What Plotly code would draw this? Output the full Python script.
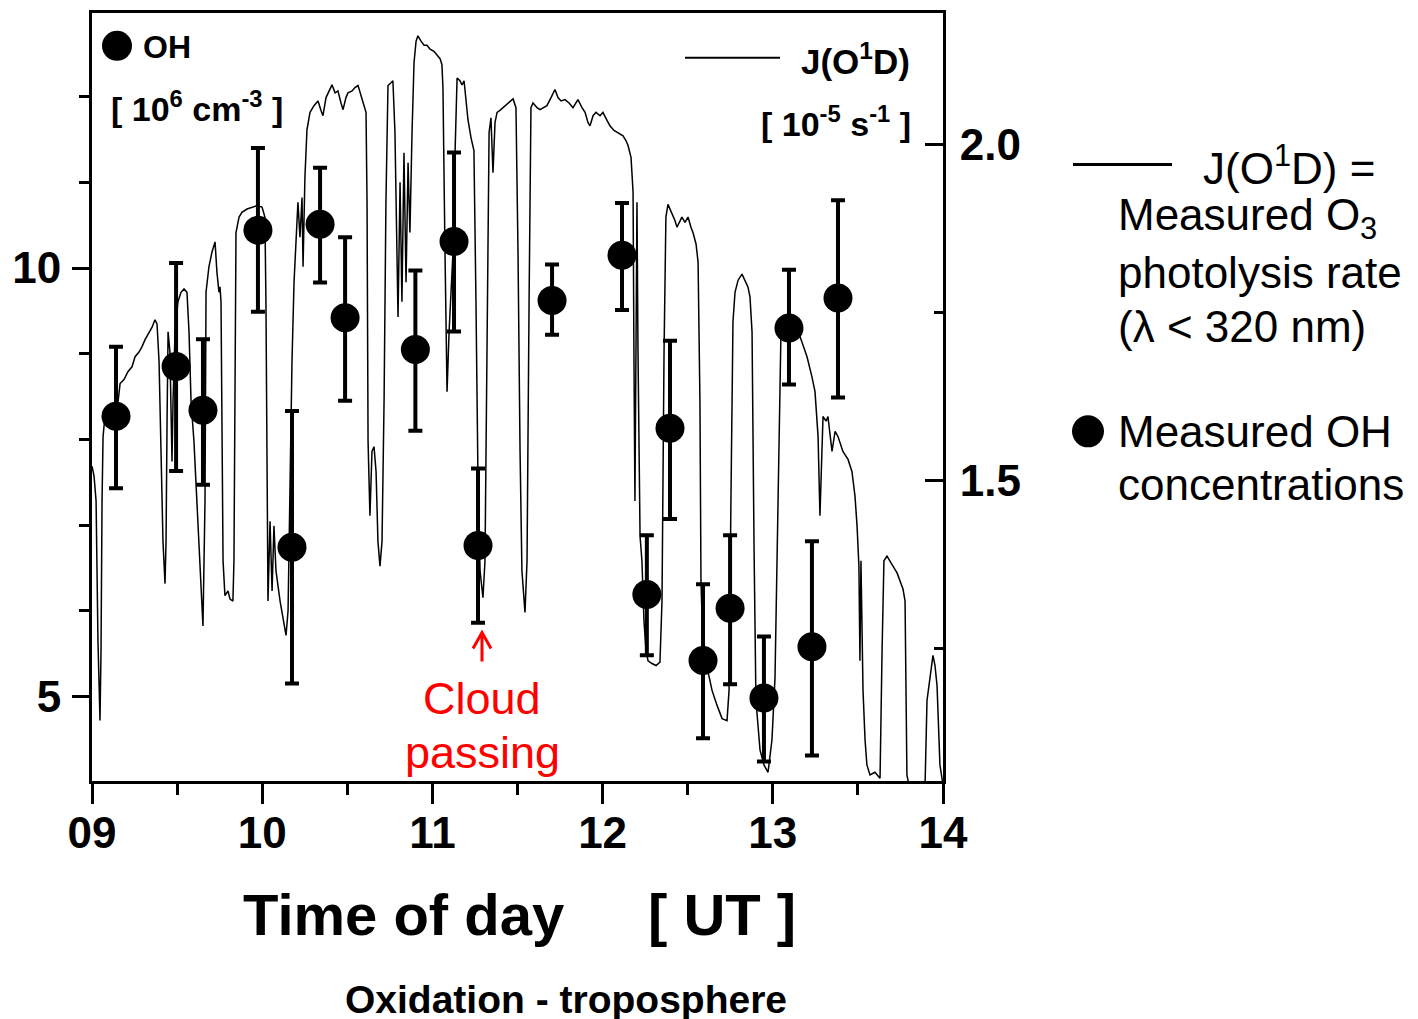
import plotly.graph_objects as go

# ---------------- data ----------------
OH_TIME = [9.141, 9.494, 9.652, 9.975, 10.175, 10.340, 10.487, 10.900, 11.127, 11.268,
           11.703, 12.114, 12.260, 12.396, 12.590, 12.749, 12.948, 13.095, 13.230, 13.383]
OH_VAL = [8.27, 8.85, 8.34, 10.44, 6.74, 10.51, 9.42, 9.05, 10.31, 6.76,
          9.62, 10.15, 6.19, 8.13, 5.42, 6.03, 4.98, 9.30, 5.58, 9.65]
OH_ERR_UP = [0.81, 1.21, 0.83, 0.96, 1.59, 0.66, 0.94, 0.92, 1.04, 0.90,
             0.42, 0.61, 0.69, 1.02, 0.89, 0.85, 0.72, 0.68, 1.23, 1.14]
OH_ERR_DOWN = [0.84, 1.22, 0.87, 0.95, 1.59, 0.68, 0.97, 0.95, 1.05, 0.90,
               0.40, 0.64, 0.71, 1.06, 0.91, 0.89, 0.74, 0.66, 1.27, 1.16]

J_TIME = [9.000, 9.012, 9.024, 9.029, 9.035, 9.047, 9.053, 9.059, 9.065, 9.076,
          9.106, 9.135, 9.153, 9.165, 9.188, 9.212, 9.235, 9.253, 9.276, 9.294,
          9.311, 9.335, 9.353, 9.370, 9.382, 9.394, 9.405, 9.417, 9.429, 9.435,
          9.441, 9.447, 9.458, 9.470, 9.476, 9.488, 9.505, 9.523, 9.541, 9.558,
          9.570, 9.582, 9.599, 9.617, 9.635, 9.652, 9.664, 9.670, 9.687, 9.705,
          9.723, 9.734, 9.746, 9.752, 9.758, 9.764, 9.770, 9.781, 9.799, 9.811,
          9.828, 9.834, 9.840, 9.846, 9.864, 9.881, 9.911, 9.940, 9.969, 9.999,
          10.016, 10.022, 10.028, 10.034, 10.046, 10.058, 10.069, 10.081, 10.105, 10.128,
          10.140, 10.152, 10.163, 10.175, 10.187, 10.199, 10.210, 10.222, 10.234, 10.240,
          10.251, 10.263, 10.281, 10.304, 10.328, 10.345, 10.357, 10.375, 10.392, 10.410,
          10.428, 10.445, 10.463, 10.475, 10.492, 10.504, 10.528, 10.545, 10.563, 10.581,
          10.592, 10.610, 10.616, 10.622, 10.633, 10.645, 10.657, 10.669, 10.680, 10.692,
          10.704, 10.716, 10.727, 10.739, 10.757, 10.768, 10.780, 10.792, 10.798, 10.810,
          10.821, 10.833, 10.845, 10.857, 10.868, 10.880, 10.892, 10.904, 10.915, 10.933,
          10.951, 10.968, 10.986, 11.009, 11.027, 11.045, 11.056, 11.062, 11.074, 11.086,
          11.098, 11.109, 11.121, 11.133, 11.145, 11.162, 11.174, 11.186, 11.197, 11.209,
          11.227, 11.244, 11.256, 11.268, 11.280, 11.297, 11.309, 11.321, 11.333, 11.344,
          11.356, 11.368, 11.380, 11.397, 11.427, 11.456, 11.474, 11.491, 11.503, 11.515,
          11.526, 11.544, 11.556, 11.568, 11.579, 11.591, 11.615, 11.632, 11.656, 11.673,
          11.697, 11.720, 11.738, 11.756, 11.779, 11.803, 11.826, 11.844, 11.855, 11.879,
          11.897, 11.914, 11.926, 11.944, 11.961, 11.985, 12.002, 12.026, 12.043, 12.067,
          12.085, 12.102, 12.120, 12.137, 12.149, 12.167, 12.179, 12.184, 12.190, 12.196,
          12.202, 12.208, 12.220, 12.231, 12.243, 12.255, 12.267, 12.290, 12.314, 12.337,
          12.349, 12.361, 12.372, 12.384, 12.396, 12.408, 12.425, 12.437, 12.455, 12.466,
          12.484, 12.502, 12.519, 12.531, 12.549, 12.561, 12.572, 12.578, 12.590, 12.613,
          12.643, 12.672, 12.702, 12.731, 12.743, 12.754, 12.766, 12.778, 12.796, 12.819,
          12.837, 12.854, 12.866, 12.878, 12.890, 12.901, 12.925, 12.948, 12.972, 12.995,
          13.013, 13.031, 13.048, 13.066, 13.089, 13.119, 13.160, 13.201, 13.230, 13.248,
          13.266, 13.277, 13.295, 13.313, 13.324, 13.348, 13.366, 13.383, 13.412, 13.442,
          13.465, 13.483, 13.495, 13.506, 13.512, 13.518, 13.530, 13.542, 13.553, 13.571,
          13.600, 13.630, 13.642, 13.653, 13.671, 13.689, 13.706, 13.730, 13.747, 13.765,
          13.777, 13.788, 13.806, 13.894, 13.906, 13.924, 13.941, 13.953, 13.965, 13.982,
          14.000]
J_VAL = [1.521, 1.506, 1.469, 1.380, 1.261, 1.142, 1.246, 1.469, 1.565, 1.595,
         1.599, 1.602, 1.617, 1.644, 1.650, 1.662, 1.669, 1.684, 1.691, 1.699,
         1.709, 1.721, 1.728, 1.739, 1.733, 1.677, 1.543, 1.409, 1.346, 1.409,
         1.588, 1.721, 1.691, 1.528, 1.617, 1.721, 1.766, 1.780, 1.785, 1.780,
         1.721, 1.617, 1.558, 1.469, 1.365, 1.283, 1.469, 1.780, 1.818, 1.840,
         1.855, 1.810, 1.780, 1.788, 1.766, 1.617, 1.380, 1.328, 1.335, 1.323,
         1.320, 1.380, 1.617, 1.869, 1.892, 1.899, 1.904, 1.907, 1.909, 1.907,
         1.892, 1.766, 1.543, 1.320, 1.439, 1.335, 1.432, 1.365, 1.320, 1.283,
         1.269, 1.306, 1.499, 1.677, 1.795, 1.862, 1.914, 1.862, 1.921, 1.818,
         1.951, 2.022, 2.048, 2.058, 2.065, 2.051, 2.043, 2.070, 2.080, 2.089,
         2.077, 2.080, 2.062, 2.052, 2.070, 2.077, 2.080, 2.085, 2.088, 2.074,
         2.062, 2.048, 1.914, 1.558, 1.447, 1.543, 1.550, 1.513, 1.409, 1.372,
         1.409, 1.617, 1.914, 2.088, 2.092, 2.095, 2.018, 1.840, 1.743, 1.944,
         1.766, 1.988, 1.795, 1.973, 1.869, 2.015, 2.122, 2.154, 2.162, 2.154,
         2.148, 2.148, 2.142, 2.139, 2.134, 2.128, 2.119, 2.085, 1.840, 1.632,
         1.721, 1.780, 1.840, 1.988, 2.099, 2.095, 2.089, 2.095, 2.070, 2.037,
         2.010, 1.991, 1.766, 1.499, 1.365, 1.325, 1.380, 1.691, 2.018, 2.040,
         1.958, 2.033, 2.048, 2.051, 2.058, 2.065, 2.068, 2.055, 1.840, 1.543,
         1.365, 1.303, 1.380, 1.766, 2.055, 2.062, 2.055, 2.052, 2.055, 2.058,
         2.070, 2.082, 2.070, 2.065, 2.067, 2.062, 2.055, 2.062, 2.067, 2.055,
         2.048, 2.033, 2.028, 2.043, 2.048, 2.043, 2.048, 2.036, 2.028, 2.021,
         2.018, 2.015, 2.013, 2.006, 1.999, 1.981, 1.929, 1.691, 1.469, 1.691,
         1.914, 1.691, 1.417, 1.380, 1.291, 1.246, 1.231, 1.227, 1.224, 1.229,
         1.320, 1.691, 1.892, 1.911, 1.904, 1.899, 1.887, 1.877, 1.887, 1.892,
         1.884, 1.892, 1.877, 1.869, 1.852, 1.825, 1.617, 1.350, 1.249, 1.224,
         1.187, 1.165, 1.145, 1.142, 1.187, 1.469, 1.736, 1.780, 1.798, 1.807,
         1.798, 1.788, 1.773, 1.721, 1.395, 1.172, 1.098, 1.076, 1.065, 1.113,
         1.206, 1.469, 1.721, 1.728, 1.728, 1.728, 1.714, 1.684, 1.654, 1.632,
         1.565, 1.447, 1.595, 1.588, 1.595, 1.543, 1.573, 1.565, 1.543, 1.531,
         1.513, 1.476, 1.432, 1.372, 1.231, 1.380, 1.187, 1.113, 1.076, 1.061,
         1.065, 1.056, 1.246, 1.380, 1.387, 1.380, 1.372, 1.362, 1.350, 1.338,
         1.320, 1.061, 1.039, 1.039, 1.172, 1.209, 1.239, 1.224, 1.194, 1.076,
         1.046]

X_TICKS = [9, 10, 11, 12, 13, 14]
X_TICK_TEXT = ["09", "10", "11", "12", "13", "14"]
Y_TICKS = [5, 10]
Y2_TICKS = [1.5, 2.0]
Y2_TICK_TEXT = ["1.5", "2.0"]

FONT = "Liberation Sans, Arial, sans-serif"

fig = go.Figure()

fig.add_trace(go.Scatter(
    x=J_TIME, y=J_VAL, mode="lines", yaxis="y2",
    line=dict(color="black", width=1.5), showlegend=False, hoverinfo="skip"))

fig.add_trace(go.Scatter(
    x=OH_TIME, y=OH_VAL, mode="markers",
    marker=dict(color="black", size=29, symbol="circle"),
    error_y=dict(type="data", symmetric=False, array=OH_ERR_UP, arrayminus=OH_ERR_DOWN,
                 color="black", thickness=4, width=7),
    showlegend=False))

L, R, T, B = 92, 943, 10, 781
W, H = 1418, 1019

def px(x):
    return (x - L) / (R - L)

def py(y):
    return (B - y) / (B - T)

annotations = []

def add_text(text, x, y, size, xanchor="left", bold=False, color="black"):
    annotations.append(dict(
        text=text, x=px(x), y=py(y), xref="paper", yref="paper",
        xanchor=xanchor, yanchor="middle", showarrow=False,
        font=dict(family=FONT, size=size, color=color, weight=700 if bold else 400)))

# inside legend texts
add_text("OH", 141, 44, 32, bold=True)
add_text("[ 10<sup>6</sup> cm<sup>-3</sup> ]", 109, 104, 34, bold=True)
add_text("J(O<sup>1</sup>D)", 799, 56, 35, bold=True)
add_text("[ 10<sup>-5</sup> s<sup>-1</sup> ]", 913, 119, 34, xanchor="right", bold=True)

# right side explanation
add_text("J(O<sup>1</sup>D) =", 1201, 163, 44)
add_text("Measured O<sub>3</sub>", 1116, 216, 44)
add_text("photolysis rate", 1116, 271, 44)
add_text("(\u03bb &lt; 320 nm)", 1116, 325, 44)
add_text("Measured OH", 1116, 430, 44)
add_text("concentrations", 1116, 483, 44)

# cloud annotation
add_text("Cloud", 482, 698, 45, xanchor="center", color="red")
add_text("passing", 482, 752, 45, xanchor="center", color="red")

# axis title
add_text("Time of day", 241, 915, 58, bold=True)
add_text("[ UT ]", 646, 915, 58, bold=True)
# bottom caption
add_text("Oxidation - troposphere", 566, 1000, 39, xanchor="center", bold=True)

shapes = [
    # inside legend dot & line
    dict(type="circle", xref="paper", yref="paper", xsizemode="pixel", ysizemode="pixel",
         xanchor=px(117), yanchor=py(43), x0=-15, x1=15, y0=-15, y1=15,
         fillcolor="black", line=dict(width=0)),
    dict(type="line", xref="paper", yref="paper", x0=px(685), x1=px(780), y0=py(55), y1=py(55),
         line=dict(color="black", width=2)),
    # right side legend
    dict(type="line", xref="paper", yref="paper", x0=px(1073), x1=px(1172), y0=py(162), y1=py(162),
         line=dict(color="black", width=3)),
    dict(type="circle", xref="paper", yref="paper", xsizemode="pixel", ysizemode="pixel",
         xanchor=px(1088), yanchor=py(430), x0=-16, x1=16, y0=-16, y1=16,
         fillcolor="black", line=dict(width=0)),
    # red arrow
    dict(type="path", xref="paper", yref="paper",
         path=f"M {px(482)},{py(661)} L {px(482)},{py(632)} M {px(473)},{py(648)} L {px(482)},{py(632)} L {px(491)},{py(648)}",
         line=dict(color="red", width=3)),
]

tickfont = dict(family=FONT, size=44, color="black", weight=700)

fig.update_layout(
    width=W, height=H, autosize=False,
    margin=dict(l=L, r=W - R, t=T, b=H - B, pad=0),
    paper_bgcolor="white", plot_bgcolor="white",
    showlegend=False,
    xaxis=dict(range=[9, 14], tickmode="array", tickvals=X_TICKS, ticktext=X_TICK_TEXT,
               ticks="outside", ticklen=20, tickwidth=3, tickcolor="black",
               showline=True, linewidth=3, linecolor="black", mirror=True,
               showgrid=False, zeroline=False, tickfont=tickfont, ticklabelstandoff=-9,
               minor=dict(tickmode="linear", tick0=9, dtick=0.5, ticks="outside",
                          ticklen=11, tickwidth=3, tickcolor="black", showgrid=False)),
    yaxis=dict(range=[4.012, 12.977], tickmode="array", tickvals=Y_TICKS,
               ticks="outside", ticklen=17, tickwidth=3, tickcolor="black",
               showline=True, linewidth=3, linecolor="black",
               showgrid=False, zeroline=False, tickfont=tickfont, ticklabelstandoff=2,
               minor=dict(tickmode="linear", tick0=0, dtick=1, ticks="outside",
                          ticklen=10, tickwidth=3, tickcolor="black", showgrid=False)),
    yaxis2=dict(range=[1.052, 2.196], overlaying="y", side="right",
                tickmode="array", tickvals=Y2_TICKS, ticktext=Y2_TICK_TEXT,
                ticks="inside", ticklen=18, tickwidth=3, tickcolor="black",
                showline=True, linewidth=3, linecolor="black",
                showgrid=False, zeroline=False, tickfont=tickfont, ticklabelstandoff=5,
                minor=dict(tickmode="linear", tick0=0, dtick=0.25, ticks="inside",
                           ticklen=9, tickwidth=3, tickcolor="black", showgrid=False)),
    annotations=annotations,
    shapes=shapes,
)

fig.write_html("out.html", config={"displayModeBar": False},
               post_script="document.body.style.margin='0';")
